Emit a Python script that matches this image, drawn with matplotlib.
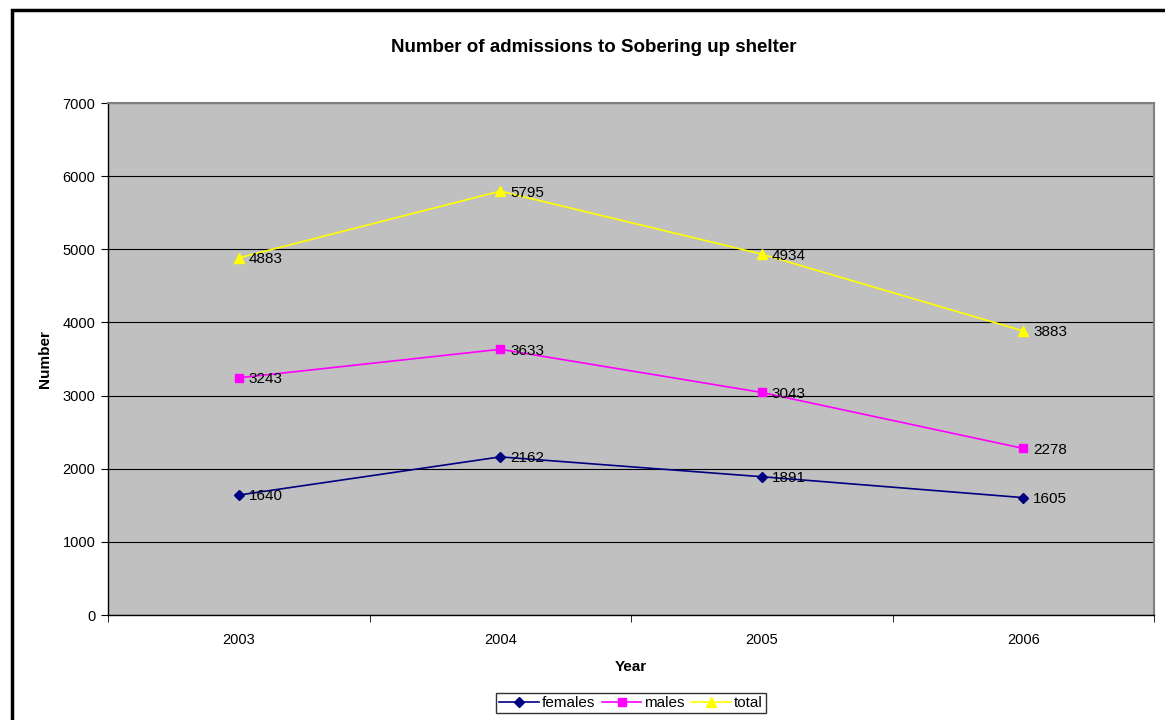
import matplotlib.pyplot as plt
from matplotlib.patches import Rectangle

plt.rcParams['font.family'] = ['Liberation Sans', 'DejaVu Sans']

years = ['2003', '2004', '2005', '2006']
females = [1640, 2162, 1891, 1605]
males = [3243, 3633, 3043, 2278]
total = [4883, 5795, 4934, 3883]

fig = plt.figure(figsize=(11.65, 7.2), dpi=100)
ax = fig.add_axes([0.0927, 0.1458, 0.8979, 0.7111])

# chart border, runs off the right and bottom edges
fig.patches.append(Rectangle((12 / 1165, -0.05), 1.2, 1 - 10 / 720 + 0.05,
                             transform=fig.transFigure, fill=False,
                             edgecolor='black', linewidth=2.5))

ax.set_facecolor('#c0c0c0')
x = range(len(years))

series = [
    (females, 'females', '#000080', 'D', 5),
    (males, 'males', '#ff00ff', 's', 6),
    (total, 'total', '#ffff00', '^', 7),
]
for vals, name, color, marker, ms in series:
    ax.plot(x, vals, color=color, marker=marker, markersize=ms, linewidth=1.2,
            label=name, zorder=3)
    for i, v in enumerate(vals):
        ax.annotate(str(v), (i, v), xytext=(7, -1), textcoords='offset points',
                    va='center', ha='left', fontsize=11, zorder=4)

ax.set_xlim(-0.5, 3.5)
ax.set_ylim(0, 7000)
ax.set_yticks(range(0, 7001, 1000))
ax.set_xticks(list(x))
ax.set_xticklabels(years)
ax.set_xticks([-0.5, 0.5, 1.5, 2.5, 3.5], minor=True)
ax.tick_params(axis='x', which='major', length=0, pad=13, labelsize=10.5)
ax.tick_params(axis='x', which='minor', length=5, direction='out')
ax.tick_params(axis='y', length=5, direction='out', labelsize=10.5, pad=4)

ax.grid(axis='y', color='black', linewidth=0.8)
ax.set_axisbelow(True)
for side in ['top', 'right']:
    ax.spines[side].set_color('#808080')
    ax.spines[side].set_linewidth(1.5)
for side in ['left', 'bottom']:
    ax.spines[side].set_color('black')
    ax.spines[side].set_linewidth(1.0)

fig.text(594 / 1165, 1 - 47 / 720, 'Number of admissions to Sobering up shelter',
         fontsize=13.5, fontweight='bold', ha='center', va='center')
ax.set_xlabel('Year', fontsize=11, fontweight='bold', labelpad=9)
ax.set_ylabel('Number', fontsize=11, fontweight='bold', labelpad=8)

leg = ax.legend(loc='upper center', bbox_to_anchor=(0.5, -0.153), ncol=3,
                frameon=True, fancybox=False, fontsize=11, handlelength=2.6,
                handletextpad=0.2, columnspacing=0.4, borderpad=0.2,
                borderaxespad=0)
leg.get_frame().set_edgecolor('black')
leg.get_frame().set_linewidth(1.0)

fig.savefig('out.png', dpi=100)
